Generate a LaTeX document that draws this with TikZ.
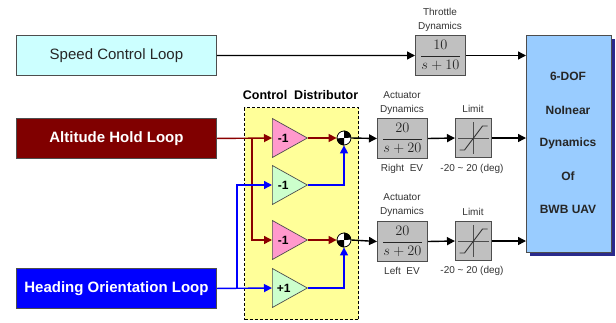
\documentclass[tikz,border=0pt]{standalone}
\usepackage{fontspec}
\setmainfont{Liberation Sans}
\usetikzlibrary{arrows.meta,shapes.geometric}
\definecolor{cyanbox}{HTML}{CCFFFF}
\definecolor{maroonbox}{HTML}{800000}
\definecolor{bluebox}{HTML}{0000FF}
\definecolor{yellowbox}{HTML}{FFFF99}
\definecolor{pinktri}{HTML}{FF99CC}
\definecolor{greentri}{HTML}{CCFFCC}
\definecolor{greybox}{HTML}{C0C0C0}
\definecolor{edgegrey}{HTML}{4D4D4D}
\definecolor{bigblue}{HTML}{99CCFF}
\definecolor{navyshadow}{HTML}{2A2A8C}
\definecolor{labelgrey}{HTML}{333333}
\definecolor{redline}{HTML}{8B0000}
\tikzset{
  loopbox/.style={draw=edgegrey,line width=0.9pt,minimum width=200pt,minimum height=40pt,inner sep=0pt,anchor=north west},
  gainbox/.style={draw=edgegrey,line width=1pt,fill=greybox,minimum width=50pt,minimum height=40pt,inner sep=0pt,anchor=north west},
  limitbox/.style={draw=edgegrey,line width=1pt,fill=greybox,minimum width=36pt,minimum height=39pt,inner sep=0pt,anchor=north west},
  gain/.style={draw=edgegrey,line width=0.7pt,isosceles triangle,isosceles triangle stretches,shape border rotate=0,minimum width=39pt,minimum height=35pt,inner sep=0pt,anchor=lower side,font=\fontsize{12}{12}\selectfont\bfseries,text=black},
  sumnode/.style={circle,draw=black,fill=white,line width=0.8pt,minimum size=14pt,inner sep=0pt},
  small/.style={font=\fontsize{10}{12}\selectfont,text=labelgrey,align=center,inner sep=0pt},
  blk/.style={line width=1.4pt,black,-{Triangle[length=8pt,width=8pt]}},
  red/.style={line width=1.4pt,redline,-{Triangle[length=8pt,width=8pt]}},
  blu/.style={line width=1.4pt,bluebox,-{Triangle[length=8pt,width=8pt]}},
  bigtext/.style={font=\fontsize{12}{12}\selectfont\bfseries,text=black!85,inner sep=0pt},
  gainfrac/.style={font=\fontsize{14}{15}\selectfont,text=black!85},
}
\begin{document}
\begin{tikzpicture}[x=1pt,y=-1pt]
\useasboundingbox (0,0) rectangle (616,322);
% distributor
\node[draw=black,densely dashed,line width=1.1pt,fill=yellowbox,minimum width=114pt,minimum height=212pt,inner sep=0pt,anchor=north west] (dist) at (244,107) {};
\node[font=\fontsize{12.5}{12}\selectfont\bfseries,inner sep=0pt] (distlab) at (300.5,95) {Control\ \ Distributor};
% loops
\node[loopbox,fill=cyanbox,font=\fontsize{15}{16}\selectfont,text=black!85] (speed) at (16,35) {Speed Control Loop};
\node[loopbox,fill=maroonbox,font=\fontsize{15}{16}\selectfont\bfseries,text=white] (alt) at (16,118) {Altitude Hold Loop};
\node[loopbox,fill=bluebox,font=\fontsize{15}{16}\selectfont\bfseries,text=white] (head) at (16,268) {Heading Orientation Loop};
% gains
\node[gain,fill=pinktri] (g1) at (272,138) {-1};
\node[gain,fill=greentri] (g2) at (272,185) {-1};
\node[gain,fill=pinktri] (g3) at (272,240) {-1};
\node[gain,fill=greentri] (g4) at (272,288) {+1};
% summing junctions
\node[sumnode] (s1) at (344,138) {};
\node[sumnode] (s2) at (344,240) {};
\fill (s1.center) -- (s1.north) arc[start angle=90,end angle=0,radius=7pt] -- cycle;
\fill (s1.center) -- (s1.south) arc[start angle=-90,end angle=-180,radius=7pt] -- cycle;
\fill (s2.center) -- (s2.north) arc[start angle=90,end angle=0,radius=7pt] -- cycle;
\fill (s2.center) -- (s2.south) arc[start angle=-90,end angle=-180,radius=7pt] -- cycle;
% throttle
\node[gainbox,gainfrac] (thr) at (415,35) {$\displaystyle\frac{\;10\;}{s+10}$};
\node[small] (thrlab) at (440,20) {Throttle\\[2pt]Dynamics};
% actuators
\node[gainbox,gainfrac] (act1) at (377,118) {$\displaystyle\frac{\;20\;}{s+20}$};
\node[gainbox,gainfrac] (act2) at (377,221) {$\displaystyle\frac{\;20\;}{s+20}$};
\node[small] (act1lab) at (402,103) {Actuator\\[2pt]Dynamics};
\node[small] (act2lab) at (402,205) {Actuator\\[2pt]Dynamics};
\node[small] (rev) at (402,169) {Right\ \ EV};
\node[small] (lev) at (402,271) {Left\ \ EV};
% limits
\node[limitbox] (lim1) at (455,118) {};
\node[limitbox] (lim2) at (455,221) {};
\node[small] (lim1lab) at (473,109) {Limit};
\node[small] (lim2lab) at (473,212) {Limit};
\node[small] (r1) at (472,169) {-20 \char`~\ 20 (deg)};
\node[small] (r2) at (472,271) {-20 \char`~\ 20 (deg)};
\foreach \n in {lim1,lim2}{
  \draw[edgegrey,line width=0.9pt] ([xshift=3pt]\n.west) -- ([xshift=-3pt]\n.east);
  \draw[edgegrey,line width=0.9pt] ([yshift=-4pt]\n.north) -- ([yshift=4pt]\n.south);
  \draw[black!80,line width=0.9pt] ([shift={(-14pt,-12pt)}]\n.center) -- ([shift={(-9pt,-12pt)}]\n.center) -- ([shift={(9pt,12pt)}]\n.center) -- ([shift={(14pt,12pt)}]\n.center);
}
% big block
\fill[navyshadow] (530,39) rectangle (615,256);
\node[draw=edgegrey,line width=0.9pt,fill=bigblue,minimum width=85pt,minimum height=217pt,inner sep=0pt,anchor=north west] (uav) at (526,35) {};
\node[bigtext] (t1) at (568,76) {6-DOF};
\node[bigtext] (t2) at (568,110) {NoInear};
\node[bigtext] (t3) at (568,143) {Dynamics};
\node[bigtext] (t4) at (568,176) {Of};
\node[bigtext] (t5) at (568,209) {BWB UAV};
% connectors
\draw[blk] (speed.east) -- (thr.west);
\draw[blk] (thr.east) -- (thr.east -| uav.west);
\draw[blk] (s1.east) -- (act1.west);
\draw[blk] (s2.east) -- (act2.west);
\draw[blk] (act1.east) -- (lim1.west);
\draw[blk] (act2.east) -- (lim2.west);
\draw[blk] (lim1.east) -- (lim1.east -| uav.west);
\draw[blk] (lim2.east) -- (lim2.east -| uav.west);
\coordinate (redj) at (252,138);
\coordinate (bluj) at (237,288);
\draw[red] (alt.east) -- (g1.lower side);
\draw[red] (g1.apex) -- (s1.west);
\draw[red] (redj) -- (252,240) -- (g3.lower side);
\draw[red] (g3.apex) -- (s2.west);
\draw[blu] (head.east) -- (g4.lower side);
\draw[blu] (bluj) -- (237,185) -- (g2.lower side);
\draw[blu] (g2.apex) -| (s1.south);
\draw[blu] (g4.apex) -| (s2.south);
\end{tikzpicture}
\end{document}
